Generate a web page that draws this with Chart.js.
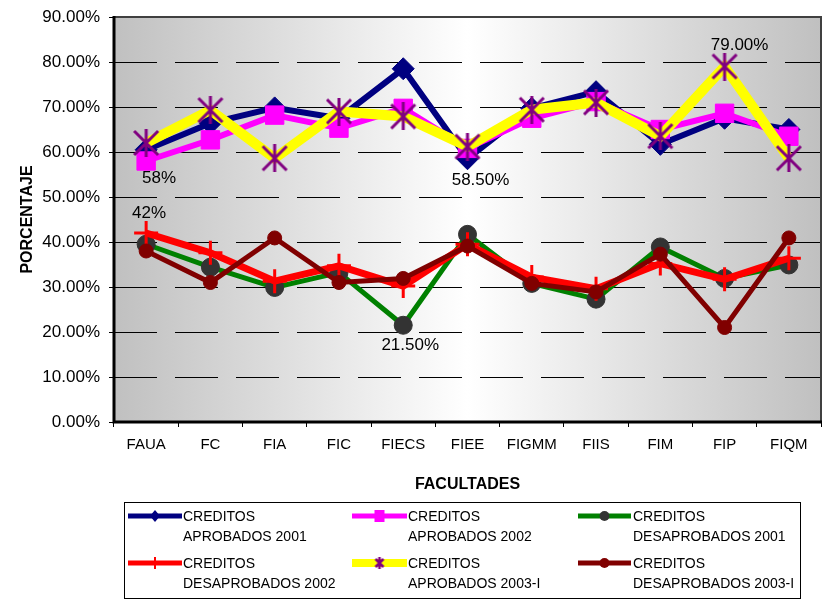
<!DOCTYPE html>
<html>
<head>
<meta charset="utf-8">
<script src="https://cdn.jsdelivr.net/npm/chart.js@4.4.0/dist/chart.umd.min.js"></script>
<style>
  body { margin: 0; background: #fff; }
  #wrap { width: 838px; height: 599px; }
</style>
</head>
<body>
<div id="wrap"><canvas id="grafico" width="838" height="599"></canvas></div>
<script>
// datos (porcentajes)
const facultades = ['FAUA', 'FC', 'FIA', 'FIC', 'FIECS', 'FIEE', 'FIGMM', 'FIIS', 'FIM', 'FIP', 'FIQM'];
const aprobados2001 = [60.5, 66.4, 69.8, 67.5, 78.5, 58.5, 69.7, 73.4, 61.7, 67.5, 65];
const aprobados2002 = [58, 62.7, 68.2, 65.3, 69.7, 60.8, 67.5, 71.2, 65, 68.6, 63.5];
const desaprobados2001 = [39.5, 34.4, 29.9, 33.2, 21.5, 41.7, 30.8, 27.3, 38.9, 31.9, 34.9];
const desaprobados2002 = [42, 37.6, 31.3, 34.7, 30.2, 39.5, 32.2, 29.6, 35.2, 31.7, 36.4];
const aprobados2003 = [62, 69.3, 58.6, 69, 67.9, 61.2, 69.4, 71, 63.5, 79, 58.6];
const desaprobados2003 = [38, 31, 40.9, 31, 31.9, 39.1, 30.8, 28.9, 37.3, 21, 40.9];
const nombres = [
    ['CREDITOS', 'APROBADOS 2001'],
    ['CREDITOS', 'APROBADOS 2002'],
    ['CREDITOS', 'DESAPROBADOS 2001'],
    ['CREDITOS', 'DESAPROBADOS 2002'],
    ['CREDITOS', 'APROBADOS 2003-I'],
    ['CREDITOS', 'DESAPROBADOS 2003-I']
];
const marcasY = [0, 10, 20, 30, 40, 50, 60, 70, 80, 90];

// etiquetas de datos que se ven en el grafico
const etiquetas = [
    { serie: 1, punto: 0, texto: '58%', dx: 13, dy: 17 },
    { serie: 3, punto: 0, texto: '42%', dx: 3, dy: -20 },
    { serie: 2, punto: 4, texto: '21.50%', dx: 7, dy: 20 },
    { serie: 0, punto: 5, texto: '58.50%', dx: 13, dy: 22 },
    { serie: 4, punto: 9, texto: '79.00%', dx: 15, dy: -21 }
];

const fuente = "'Liberation Sans', Arial, sans-serif";

function asterisco(size, lw, color) {
    const c = document.createElement('canvas');
    c.width = size;
    c.height = size;
    const g = c.getContext('2d');
    const m = 2;
    g.strokeStyle = color;
    g.lineWidth = lw;
    g.beginPath();
    g.moveTo(m, m); g.lineTo(size - m, size - m);
    g.moveTo(size - m, m); g.lineTo(m, size - m);
    g.moveTo(size / 2, 0); g.lineTo(size / 2, size);
    g.stroke();
    return c;
}

const estrella = asterisco(28, 3, '#800080');
const estrellaChica = asterisco(12, 2.5, '#800080');

const series = [
    { data: aprobados2001, borderColor: '#000080', borderWidth: 6, pointStyle: 'rectRot', pointRadius: 11, pointBackgroundColor: '#000080', pointBorderColor: '#000080', pointBorderWidth: 1 },
    { data: aprobados2002, borderColor: '#FF00FF', borderWidth: 6, pointStyle: 'rect', pointRadius: 13, pointBackgroundColor: '#FF00FF', pointBorderColor: '#FF00FF', pointBorderWidth: 1 },
    { data: desaprobados2001, borderColor: '#008000', borderWidth: 5, pointStyle: 'circle', pointRadius: 9, pointBackgroundColor: '#333333', pointBorderColor: '#333333', pointBorderWidth: 1 },
    { data: desaprobados2002, borderColor: '#FF0000', borderWidth: 7, pointStyle: 'cross', pointRadius: 12, pointBackgroundColor: '#FF0000', pointBorderColor: '#FF0000', pointBorderWidth: 3 },
    { data: aprobados2003, borderColor: '#FFFF00', borderWidth: 10, pointStyle: estrella, pointRadius: 14, pointBackgroundColor: '#800080', pointBorderColor: '#800080', pointBorderWidth: 3 },
    { data: desaprobados2003, borderColor: '#800000', borderWidth: 5, pointStyle: 'circle', pointRadius: 7, pointBackgroundColor: '#800000', pointBorderColor: '#800000', pointBorderWidth: 1 }
];

const fondo = {
    id: 'fondo',
    beforeDraw(chart) {
        const { ctx, chartArea: a } = chart;
        ctx.save();
        ctx.fillStyle = '#fff';
        ctx.fillRect(0, 0, chart.width, chart.height);
        const grad = ctx.createLinearGradient(a.left, 0, a.right, 0);
        grad.addColorStop(0, '#c0c0c0');
        grad.addColorStop(0.5, '#ffffff');
        grad.addColorStop(1, '#c0c0c0');
        ctx.fillStyle = grad;
        ctx.fillRect(a.left, a.top, a.right - a.left, a.bottom - a.top);
        ctx.restore();
    },
    beforeDatasetsDraw(chart) {
        const { ctx, chartArea: a } = chart;
        ctx.save();
        ctx.strokeStyle = '#404040';
        ctx.lineWidth = 2;
        ctx.beginPath();
        ctx.moveTo(a.left, a.top);
        ctx.lineTo(a.right, a.top);
        ctx.lineTo(a.right, a.bottom);
        ctx.stroke();
        ctx.strokeStyle = '#000';
        ctx.lineWidth = 3;
        ctx.beginPath();
        ctx.moveTo(a.left, a.top - 1);
        ctx.lineTo(a.left, a.bottom);
        ctx.lineTo(a.right + 1, a.bottom);
        ctx.stroke();
        ctx.restore();
    }
};

const rotulos = {
    id: 'rotulos',
    afterDatasetsDraw(chart) {
        const ctx = chart.ctx;
        ctx.save();
        ctx.font = '17px ' + fuente;
        ctx.fillStyle = '#000';
        ctx.textAlign = 'center';
        ctx.textBaseline = 'middle';
        etiquetas.forEach(function (e) {
            const p = chart.getDatasetMeta(e.serie).data[e.punto];
            ctx.fillText(e.texto, p.x + e.dx, p.y + e.dy);
        });
        ctx.restore();
    }
};

const leyenda = {
    id: 'leyenda',
    afterDraw(chart) {
        const ctx = chart.ctx;
        const iconoX = [128, 352, 578];
        const iconoFin = [182, 407, 631];
        const textoX = [183, 408, 633];
        const filaY = [516, 563];
        ctx.save();
        ctx.strokeStyle = '#000';
        ctx.lineWidth = 1;
        ctx.strokeRect(124.5, 502.5, 676, 96);
        ctx.font = '14px ' + fuente;
        ctx.fillStyle = '#000';
        ctx.textBaseline = 'middle';
        series.forEach(function (s, i) {
            const col = i % 3;
            const y = filaY[Math.floor(i / 3)];
            const x0 = iconoX[col], x1 = iconoFin[col];
            const cx = (x0 + x1) / 2;
            ctx.strokeStyle = s.borderColor;
            ctx.lineWidth = i === 4 ? 8 : 5;
            ctx.beginPath();
            ctx.moveTo(x0, y);
            ctx.lineTo(x1, y);
            ctx.stroke();
            ctx.fillStyle = s.pointBackgroundColor;
            ctx.strokeStyle = s.pointBorderColor;
            if (i === 0) {
                ctx.beginPath();
                ctx.moveTo(cx, y - 6); ctx.lineTo(cx + 5, y); ctx.lineTo(cx, y + 6); ctx.lineTo(cx - 5, y);
                ctx.closePath();
                ctx.fill();
            } else if (i === 1) {
                ctx.fillRect(cx - 5, y - 6, 10, 12);
            } else if (i === 2 || i === 5) {
                ctx.beginPath();
                ctx.arc(cx, y, 5, 0, Math.PI * 2);
                ctx.fill();
            } else if (i === 3) {
                ctx.lineWidth = 2;
                ctx.beginPath();
                ctx.moveTo(cx, y - 6); ctx.lineTo(cx, y + 6);
                ctx.stroke();
            } else {
                ctx.drawImage(estrellaChica, cx - 6, y - 6);
            }
            ctx.fillStyle = '#000';
            ctx.fillText(nombres[i][0], textoX[col], y + 1);
            ctx.fillText(nombres[i][1], textoX[col], y + 21);
        });
        ctx.restore();
    }
};

new Chart(document.getElementById('grafico'), {
    type: 'line',
    data: {
        labels: facultades,
        datasets: series.map(function (s, i) {
            return Object.assign({
                label: nombres[i].join(' '),
                tension: 0,
                fill: false,
                order: 6 - i,
                pointHoverRadius: s.pointRadius
            }, s);
        })
    },
    options: {
        responsive: false,
        animation: false,
        events: [],
        layout: { padding: { top: 13, right: 3, left: 0, bottom: 0 } },
        plugins: {
            legend: { display: false },
            tooltip: { enabled: false }
        },
        scales: {
            x: {
                offset: true,
                grid: { drawOnChartArea: false, offset: true, tickLength: 5, tickColor: '#000', tickWidth: 1 },
                border: { display: false },
                ticks: { color: '#000', font: { size: 15, family: fuente }, padding: 9, maxRotation: 0, autoSkip: false },
                title: {
                    display: true, text: 'FACULTADES', color: '#000',
                    font: { size: 16, weight: 'bold', family: fuente },
                    padding: { top: 0, bottom: 105 }
                },
                afterFit(scale) {
                    scale.height = 177;
                    scale.paddingLeft = 0;
                    scale.paddingRight = 0;
                }
            },
            y: {
                min: 0,
                max: 90,
                afterBuildTicks(scale) { scale.ticks = marcasY.map(function (v) { return { value: v }; }); },
                grid: { color: '#000', lineWidth: 1, tickLength: 5, tickColor: '#000', tickWidth: 1, tickBorderDash: [] },
                border: { display: false, dash: [43, 18] },
                ticks: {
                    color: '#000', font: { size: 17, family: fuente }, padding: 9,
                    callback: function (v) { return v.toFixed(2) + '%'; }
                },
                title: {
                    display: true, text: 'PORCENTAJE', color: '#000',
                    font: { size: 16, weight: 'bold', family: fuente },
                    padding: { top: 18, bottom: 0 }
                },
                afterFit(scale) {
                    scale.width = 114;
                    scale.paddingTop = 0;
                    scale.paddingBottom = 0;
                }
            }
        }
    },
    plugins: [fondo, rotulos, leyenda]
});
</script>
</body>
</html>
